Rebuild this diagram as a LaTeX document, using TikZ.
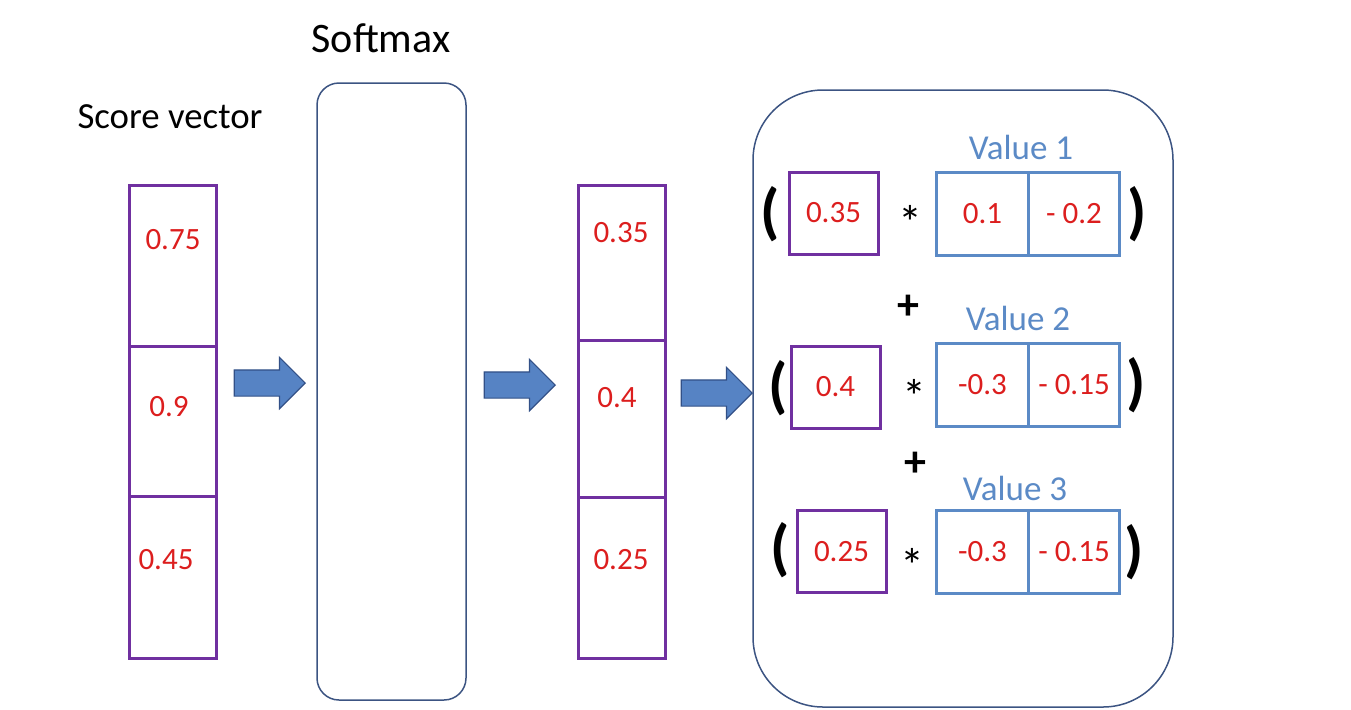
\documentclass[tikz,border=0pt]{standalone}
\usepackage{fontspec}
\setmainfont{Carlito}
\usetikzlibrary{shapes.arrows}

\definecolor{vecpurple}{RGB}{112,48,160}
\definecolor{numred}{RGB}{220,30,30}
\definecolor{valblue}{RGB}{91,138,198}
\definecolor{framenavy}{RGB}{60,84,130}
\definecolor{arrowfill}{RGB}{86,131,196}
\definecolor{arrowedge}{RGB}{50,80,135}

\begin{document}
\begin{tikzpicture}[x=0.5pt,y=-0.5pt,
    frame/.style={draw=framenavy,line width=0.75pt,inner sep=0pt},
    cell/.style={draw=vecpurple,line width=1.5pt,minimum width=43.5pt,inner sep=0pt,outer sep=0pt},
    num/.style={text=numred,font=\fontsize{15.5}{18}\selectfont,inner sep=0pt},
    wbox/.style={draw=vecpurple,line width=1.5pt,minimum width=44.5pt,minimum height=41pt,
        inner sep=0pt,text=numred,font=\fontsize{15.5}{18}\selectfont},
    valcell/.style={draw=valblue,line width=1.5pt,minimum width=45.75pt,minimum height=41.5pt,
        inner sep=0pt,outer sep=0pt,text=numred,font=\fontsize{15.5}{18}\selectfont},
    vallabel/.style={text=valblue,font=\fontsize{17.5}{21}\selectfont},
    paren/.style={font=\bfseries\fontsize{31}{36}\selectfont},
    op/.style={font=\fontsize{24}{28}\selectfont},
    blockarrow/.style={single arrow,draw=arrowedge,fill=arrowfill,line width=0.6pt,
        inner xsep=0pt,inner ysep=6.25pt,single arrow head extend=6.25pt,
        minimum height=35.5pt,anchor=tip}]
    \useasboundingbox (0,0) rectangle (1351,709);

    % Titles
    \node (title) at (170,117) {\fontsize{18.4}{22}\selectfont Score vector};
    \node (softtitle) at (381,38) {\fontsize{21}{25}\selectfont Softmax};

    % Score vector column
    \node[cell,minimum height=80.5pt] (s1) at (172.5,265.5) {};
    \node[cell,minimum height=75pt] (s2) at (172.5,421) {};
    \node[cell,minimum height=81pt] (s3) at (172.5,577) {};
    \node[num] (sv1) at (173,240) {0.75};
    \node[num] (sv2) at (169,407) {0.9};
    \node[num] (sv3) at (166,560) {0.45};

    % Softmax box
    \node[frame,minimum width=74.5pt,minimum height=308.5pt,rounded corners=11pt] (softbox) at (391.5,391.5) {};

    % Softmax output column
    \node[cell,minimum height=77.5pt] (p1) at (622,262.5) {};
    \node[cell,minimum height=78.5pt] (p2) at (622,418.5) {};
    \node[cell,minimum height=80.5pt] (p3) at (622,577.5) {};
    \node[num] (pv1) at (621,233) {0.35};
    \node[num] (pv2) at (617,398) {0.4};
    \node[num] (pv3) at (621,560) {0.25};

    % Weighted sum box
    \node[frame,minimum width=210pt,minimum height=308.5pt,rounded corners=35pt] (sumbox) at (963,398.5) {};

    % Arrows
    \node[blockarrow] (arr1) at (306,383) {};
    \node[blockarrow] (arr2) at (556,385) {};
    \node[blockarrow] (arr3) at (753,393) {};

    % Row 1
    \node[paren] (lp1) at (770,214) {(};
    \node[wbox] (w1) at (833.5,213) {0.35};
    \node[op] (m1) at (910,222) {*};
    \node[valcell] (a1) at (982.5,213.5) {0.1};
    \node[valcell] (b1) at (1074,213.5) {- 0.2};
    \node[paren] (rp1) at (1137,214) {)};
    \node[vallabel] (v1) at (1021,147) {Value 1};

    \node[op,font=\bfseries\fontsize{22}{26}\selectfont] (plus1) at (908,307) {+};

    % Row 2
    \node[paren] (lp2) at (778,388) {(};
    \node[wbox] (w2) at (835.5,387) {0.4};
    \node[op] (m2) at (914,396) {*};
    \node[valcell] (a2) at (982.5,385) {-0.3};
    \node[valcell] (b2) at (1074,385) {- 0.15};
    \node[paren] (rp2) at (1136,385) {)};
    \node[vallabel] (v2) at (1018,318) {Value 2};

    \node[op,font=\bfseries\fontsize{22}{26}\selectfont] (plus2) at (915,464) {+};

    % Row 3
    \node[paren] (lp3) at (780,550) {(};
    \node[wbox] (w3) at (841.5,551.5) {0.25};
    \node[op] (m3) at (912,565) {*};
    \node[valcell] (a3) at (982.5,551.5) {-0.3};
    \node[valcell] (b3) at (1074,551.5) {- 0.15};
    \node[paren] (rp3) at (1134,552) {)};
    \node[vallabel] (v3) at (1015,488) {Value 3};
\end{tikzpicture}
\end{document}
